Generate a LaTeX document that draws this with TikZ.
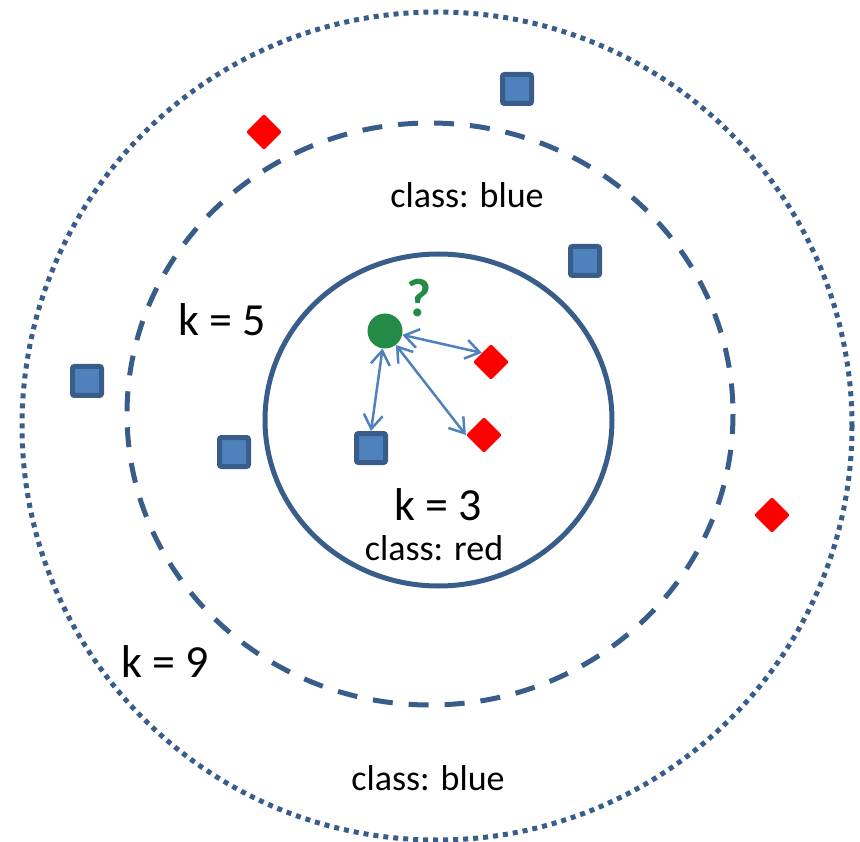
\documentclass[tikz,border=0pt]{standalone}
\usepackage{fontspec}
\setmainfont{Carlito}
\usetikzlibrary{shapes.geometric,arrows.meta}
\definecolor{ringc}{RGB}{56,93,138}
\definecolor{sqfill}{RGB}{79,129,189}
\definecolor{arrc}{RGB}{79,129,189}
\definecolor{grn}{RGB}{35,139,69}
\begin{document}
\begin{tikzpicture}[x=1pt,y=-1pt,
  sq/.style={draw=ringc, fill=sqfill, line width=5pt, minimum size=29pt, inner sep=0pt, rounded corners=2pt},
  dia/.style={diamond, fill=red, minimum width=36pt, minimum height=36pt, inner sep=0pt, rounded corners=2pt},
  ring/.style={draw=ringc, line width=5pt},
  small/.style={font=\fontsize{36}{40}\selectfont, inner sep=0pt},
  big/.style={font=\fontsize{46}{50}\selectfont, inner sep=0pt},
  link/.style={draw=arrc, line width=2.5pt, {Straight Barb[length=14pt,width=19pt]}-{Straight Barb[length=14pt,width=19pt]}}
]
\useasboundingbox (0,0) rectangle (860,842);
% rings
\draw[ring, dash pattern=on 5pt off 5pt] (437,426) ellipse [x radius=415, y radius=414];
\draw[ring, dash pattern=on 20pt off 16pt] (430,414) ellipse [x radius=303, y radius=291];
\draw[ring] (438.5,420) ellipse [x radius=173.5, y radius=166];
% squares
\node[sq] (s1) at (517,89) {};
\node[sq] (s2) at (585,261) {};
\node[sq] (s3) at (87,381) {};
\node[sq] (s4) at (234,452) {};
\node[sq] (s5) at (371,448) {};
% diamonds
\node[dia] (d1) at (491,362) {};
\node[dia] (d2) at (484,435) {};
\node[dia] (d3) at (264,132) {};
\node[dia] (d4) at (772,515) {};
% query point
\node[circle, fill=grn, minimum size=35pt, inner sep=0pt] (g) at (385,331) {};
\node[font=\fontsize{54}{58}\selectfont\bfseries, text=grn, inner sep=0pt] (q) at (419,298) {?};
% links
\draw[link] (g) -- (d1.north west);
\draw[link] (g) -- (s5.north);
\draw[link] (g) -- (d2.west);
% labels
\node[small] (cb1) at (467,195) {class: blue};
\node[big] (k5) at (222,320) {k = 5};
\node[big] (k9) at (165,662) {k = 9};
\node[big] (k3) at (438,505) {k = 3};
\node[small] (cr) at (434,548) {class: red};
\node[small] (cb2) at (428,778) {class: blue};
\end{tikzpicture}
\end{document}
